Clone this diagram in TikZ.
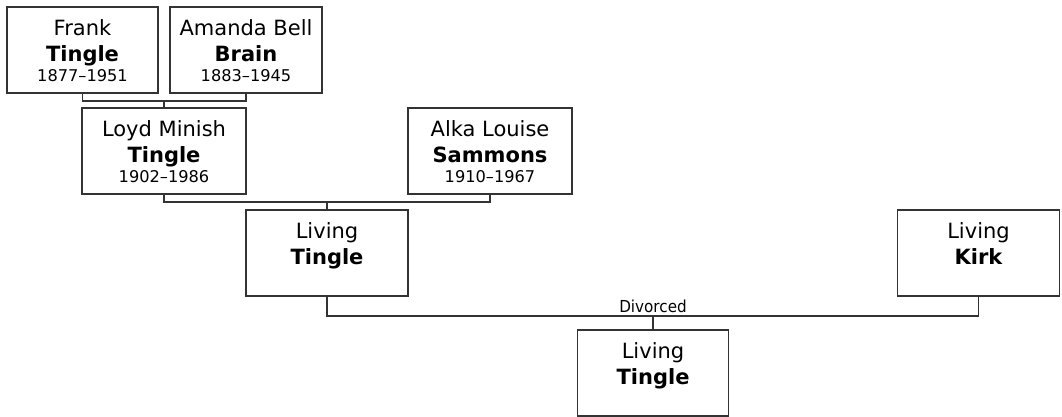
\documentclass[tikz,border=0pt]{standalone}
\usepackage{fontspec}
\setmainfont{DejaVu Sans}
\newfontfamily\condfont[FakeStretch=0.92]{DejaVu Sans}
\begin{document}
\begin{tikzpicture}[x=1pt,y=-1pt,
  person/.style={draw=black!80, line width=1.4pt, minimum width=#1, minimum height=86pt, inner sep=0pt, fill=white},
  nm/.style={anchor=base, inner sep=0pt, font=\fontsize{21}{24}\selectfont},
  sn/.style={anchor=base, inner sep=0pt, font=\fontsize{21}{24}\selectfont\bfseries},
  dt/.style={anchor=base, inner sep=0pt, font=\fontsize{16.2}{19}\selectfont},
  link/.style={draw=black!80, line width=1.4pt},
  lbl/.style={anchor=base, inner sep=0pt, font=\fontsize{16.5}{18}\selectfont\condfont}]
\useasboundingbox (0,0) rectangle (1062,417);

% boxes
\node[person=151pt] (frank)  at (82.5,50)  {};
\node[person=152pt] (amanda) at (246,50)   {};
\node[person=164pt] (loyd)   at (164,151)  {};
\node[person=164pt] (alka)   at (490,151)  {};
\node[person=162pt] (lt)     at (327,253)  {};
\node[person=162pt] (kirk)   at (978.5,253) {};
\node[person=151pt] (child)  at (653,373)  {};

% texts
\node[nm] (frank1) at ([yshift=-29pt]frank.north) {Frank};
\node[sn] (frank2) at ([yshift=-55pt]frank.north) {Tingle};
\node[dt] (frank3) at ([yshift=-75pt]frank.north) {1877–1951};

\node[nm] (amanda1) at ([yshift=-29pt]amanda.north) {Amanda Bell};
\node[sn] (amanda2) at ([yshift=-55pt]amanda.north) {Brain};
\node[dt] (amanda3) at ([yshift=-75pt]amanda.north) {1883–1945};

\node[nm] (loyd1) at ([yshift=-29pt]loyd.north) {Loyd Minish};
\node[sn] (loyd2) at ([yshift=-55pt]loyd.north) {Tingle};
\node[dt] (loyd3) at ([yshift=-75pt]loyd.north) {1902–1986};

\node[nm] (alka1) at ([yshift=-29pt]alka.north) {Alka Louise};
\node[sn] (alka2) at ([yshift=-55pt]alka.north) {Sammons};
\node[dt] (alka3) at ([yshift=-75pt]alka.north) {1910–1967};

\node[nm] (lt1) at ([yshift=-29pt]lt.north) {Living};
\node[sn] (lt2) at ([yshift=-55pt]lt.north) {Tingle};

\node[nm] (kirk1) at ([yshift=-29pt]kirk.north) {Living};
\node[sn] (kirk2) at ([yshift=-55pt]kirk.north) {Kirk};

\node[nm] (child1) at ([yshift=-29pt]child.north) {Living};
\node[sn] (child2) at ([yshift=-55pt]child.north) {Tingle};

% connectors
\coordinate (m1) at (164,101);
\draw[link] (frank.south) |- (m1) -| (amanda.south);
\draw[link] (m1) -- (loyd.north);

\coordinate (m2) at (327,202);
\draw[link] (loyd.south) |- (m2) -| (alka.south);
\draw[link] (m2) -- (lt.north);

\coordinate (m3) at (653,316);
\draw[link] (lt.south) |- (m3) -| (kirk.south);
\draw[link] (m3) -- (child.north);
\node[lbl] (div) at (653,312.5) {Divorced};
\end{tikzpicture}
\end{document}
